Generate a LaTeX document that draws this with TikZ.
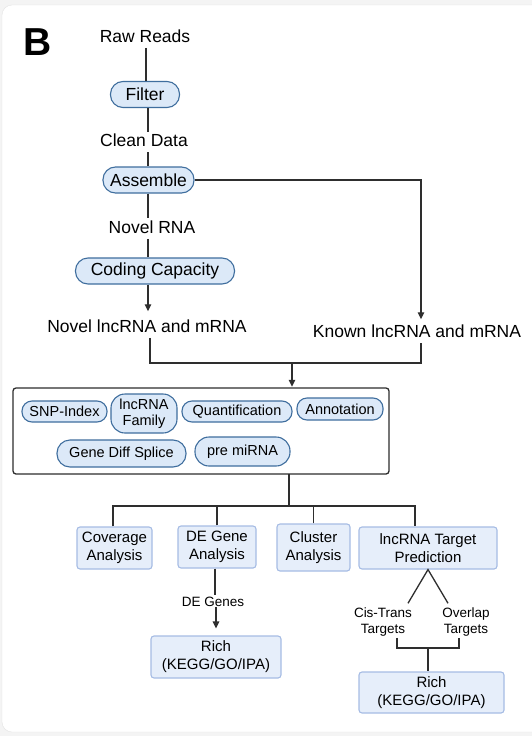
\documentclass[tikz,border=0pt]{standalone}
\usepackage{fontspec}
\setmainfont{Liberation Sans}
\usetikzlibrary{arrows.meta,calc}
\definecolor{pillfill}{HTML}{DCE9F8}
\definecolor{pillline}{HTML}{3F6E9E}
\definecolor{boxfill}{HTML}{E6EEFA}
\definecolor{boxline}{HTML}{A6BCE4}
\definecolor{ink}{HTML}{2E2E2E}
\definecolor{pagebg}{HTML}{F4F4F4}
\definecolor{cardline}{HTML}{E4E4E4}
\tikzset{
  lbl/.style={font=\fontsize{17.5}{19}\selectfont, inner xsep=1pt, inner ysep=2pt,
    text height=12.5pt, text depth=3.7pt, anchor=base},
  small/.style={font=\fontsize{13.5}{16.5}\selectfont, inner sep=1pt, align=center},
  pill/.style={draw=pillline, fill=pillfill, line width=1.1pt, rounded corners=12.5pt,
    font=\fontsize{17.5}{19}\selectfont, minimum height=26pt, inner xsep=7pt, inner ysep=0pt},
  tool/.style={draw=pillline, fill=pillfill, line width=1.1pt, rounded corners=10pt,
    font=\fontsize{14.5}{15.5}\selectfont, inner sep=0pt, align=center},
  card/.style={draw=boxline, fill=boxfill, line width=1.1pt, rounded corners=3pt,
    font=\fontsize{15}{18}\selectfont, inner sep=0pt, align=center},
  link/.style={draw=ink, line width=1.3pt},
  arr/.style={link, -{Triangle[length=7pt,width=6.5pt]}},
}
\begin{document}
\begin{tikzpicture}[x=1pt,y=-1pt]
  % page and card
  \fill[pagebg] (0,0) rectangle (532,736);
  \useasboundingbox (0,0) rectangle (532,736);
  \draw[cardline, fill=white, rounded corners=10pt] (2,5) rectangle (545,732);
  \node[font=\fontsize{39}{40}\selectfont\bfseries, anchor=base west, inner sep=0pt] (panel) at (23,55) {B};

  % upper pipeline
  \node[lbl] (raw) at (145,42) {Raw Reads};
  \node[pill, minimum width=69pt] (filter) at (145,94.5) {Filter};
  \node[lbl] (clean) at (144,146.5) {Clean Data};
  \node[pill, minimum width=91pt] (assemble) at (148.5,180) {Assemble};
  \node[lbl] (novel) at (152,233) {Novel RNA};
  \node[pill, minimum width=159pt] (coding) at (155,271) {Coding Capacity};
  \node[lbl] (novellnc) at (147,332) {Novel lncRNA and mRNA};
  \node[lbl] (known) at (417,337) {Known lncRNA and mRNA};

  \coordinate (c1) at (146,0);
  \coordinate (c2) at (148,0);
  \draw[link] (raw.south -| c1) -- (filter.north -| c1);
  \draw[link] (filter.south -| c2) -- (clean.north -| c2);
  \draw[link] (clean.south -| c2) -- (assemble.north -| c2);
  \draw[link] (assemble.south -| c2) -- (novel.north -| c2);
  \draw[link] (novel.south -| c2) -- (coding.north -| c2);
  \draw[arr, shorten >=6pt] (coding.south -| c2) -- (novellnc.north -| c2);
  \draw[arr, shorten >=3pt] (assemble.east) -| ([xshift=4pt]known.north);

  % merge into the tool box
  \coordinate (merge) at (292,363);
  \draw[link] ([xshift=3pt]novellnc.south) |- (merge) -| ([xshift=4pt]known.south);

  \draw[ink, line width=1.3pt, rounded corners=3pt] (13,388) rectangle (389,474);
  \node[inner sep=0pt, minimum width=376pt, minimum height=86pt] (tools) at (201,431) {};
  \draw[arr, shorten >=1pt] (merge) -- (merge |- tools.north);

  \node[tool, minimum width=85pt, minimum height=21pt] (snp) at (64.5,411.5) {SNP-Index};
  \node[tool, minimum width=66pt, minimum height=39pt, rounded corners=14pt,
        font=\fontsize{14.5}{16}\selectfont] (family) at (144,413.5) {lncRNA\\Family};
  \node[tool, minimum width=110pt, minimum height=21pt] (quant) at (237,411.5) {Quantification};
  \node[tool, minimum width=86pt, minimum height=22pt] (annot) at (340,409) {Annotation};
  \node[tool, minimum width=129pt, minimum height=27pt, rounded corners=13pt] (splice) at (121.5,453.5) {Gene Diff Splice};
  \node[tool, minimum width=95pt, minimum height=29pt, rounded corners=14pt] (mirna) at (242.5,451.5) {pre miRNA};

  % analyses
  \node[card, minimum width=75pt, minimum height=42pt] (cov) at (114.5,548) {Coverage\\Analysis};
  \node[card, minimum width=78pt, minimum height=42pt] (deg) at (217,547) {DE Gene\\Analysis};
  \node[card, minimum width=73pt, minimum height=47pt] (clu) at (313.5,547.5) {Cluster\\Analysis};
  \node[card, minimum width=138pt, minimum height=42pt] (lnc) at (428,548) {lncRNA Target\\Prediction};

  \coordinate (hub) at (289,506);
  \draw[link] (hub |- tools.south) -- (hub);
  \draw[link] ([xshift=-1.5pt]cov.north) |- ([xshift=-13pt]lnc.north |- hub) -- ([xshift=-13pt]lnc.north);
  \draw[link] (deg.north) -- (deg.north |- hub);
  \draw[link] (clu.north) -- (clu.north |- hub);

  % DE branch
  \node[small, anchor=base] (degenes) at (213,606) {DE Genes};
  \node[card, minimum width=130pt, minimum height=42pt] (rich1) at (216,657) {Rich\\(KEGG/GO/IPA)};
  \draw[link] ([xshift=-2pt]deg.south) -- ([xshift=-2pt]deg.south |- degenes.north);
  \draw[arr, shorten >=7pt] (degenes.south -| rich1.north) -- (rich1.north);

  % target branch
  \node[small] (cis) at (383,622) {Cis-Trans\\Targets};
  \node[small] (overlap) at (466,622) {Overlap\\Targets};
  \node[card, minimum width=145pt, minimum height=41pt] (rich2) at (431.5,692.5) {Rich\\(KEGG/GO/IPA)};
  \draw[link, line join=miter] ([xshift=25pt, yshift=3pt]cis.north) -- (lnc.south) -- ([xshift=-18pt, yshift=3pt]overlap.north);
  \coordinate (join) at (428,648);
  \draw[link] ([xshift=14pt]cis.south) |- (join) -| ([xshift=-7pt]overlap.south);
  \draw[link] (join) -- (join |- rich2.north);
\end{tikzpicture}
\end{document}
